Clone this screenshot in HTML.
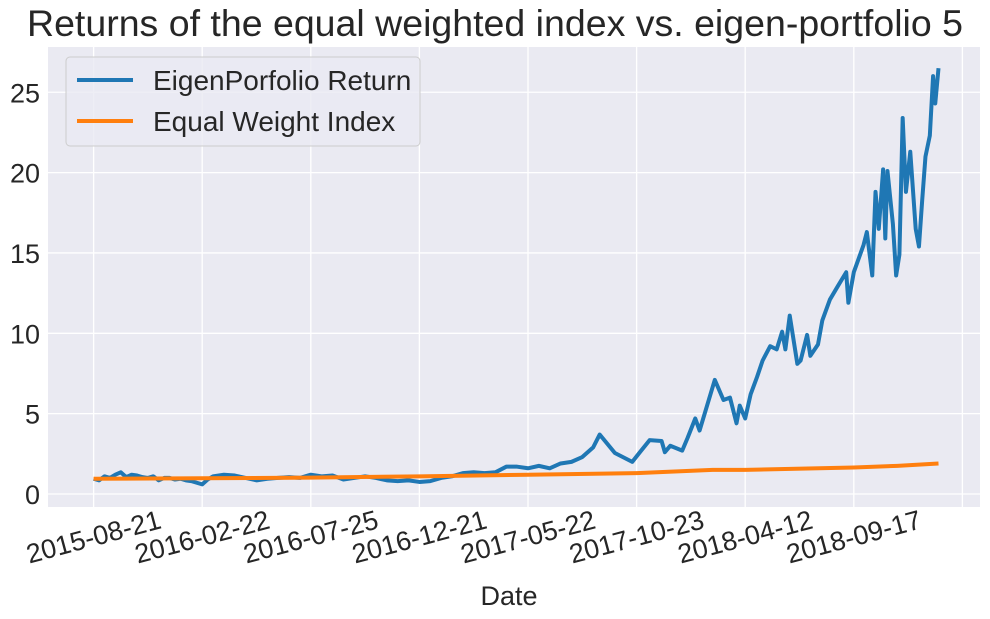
<!DOCTYPE html>
<html><head><meta charset="utf-8"><style>
body{margin:0;background:#fff}
svg{display:block;font-family:"Liberation Sans",Arial,sans-serif}
</style></head><body>
<svg id="chart" width="990" height="619">
<rect x="48" y="47" width="932" height="460" fill="#eaeaf2"/>
<g id="grid"></g><g id="series"></g><g id="ticks"></g>
<text x="495" y="36" font-size="37.5" text-anchor="middle" fill="#262626">Returns of the equal weighted index vs. eigen-portfolio 5</text>
<text x="509" y="605" font-size="27" text-anchor="middle" fill="#262626">Date</text>
<g>
<rect x="66" y="57" width="354" height="89" rx="4" fill="#eaeaf2" fill-opacity="0.8" stroke="#cccccc"/>
<line x1="77" y1="80" x2="133" y2="80" stroke="#1f77b4" stroke-width="4"/>
<text x="153" y="90" font-size="28" fill="#262626">EigenPorfolio Return</text>
<line x1="77" y1="121" x2="133" y2="121" stroke="#ff7f0e" stroke-width="4"/>
<text x="153" y="131" font-size="28" fill="#262626">Equal Weight Index</text>
</g>
</svg>
<script>
const xTickLabels=["2015-08-21","2016-02-22","2016-07-25","2016-12-21","2017-05-22","2017-10-23","2018-04-12","2018-09-17",""];
const xTickIdx=[0,100,200,300,400,500,600,700,800];
const yTicks=[0,5,10,15,20,25];
const eigenIdx=[0,5,10,15,20,25,30,35,40,45,50,55,60,65,70,75,80,85,90,95,100,105,110,120,130,140,150,160,170,180,190,200,210,220,230,240,250,260,270,280,290,300,310,320,330,340,350,360,370,380,390,400,410,420,430,440,450,460,466,480,496,503,512,523,526,531,542,547,554,558,572,580,586,592,595,600,605,611,616,623,629,634,637,641,648,651,657,660,667,671,678,685,693,695,700,709,712,717,720,723,727,729,731,736,739,742,745,748,752,757,760,763,766,770,773,775,778];
const eigenVal=[0.95,0.85,1.1,1.0,1.2,1.35,1.05,1.2,1.15,1.05,1.0,1.1,0.85,1.0,1.0,0.9,0.95,0.85,0.8,0.7,0.6,0.9,1.1,1.2,1.15,1.0,0.85,0.95,1.0,1.05,1.0,1.2,1.1,1.15,0.9,1.0,1.1,1.0,0.85,0.8,0.85,0.75,0.8,1.0,1.1,1.3,1.35,1.3,1.35,1.7,1.7,1.6,1.75,1.6,1.9,2.0,2.3,2.9,3.7,2.55,2.0,2.6,3.35,3.3,2.6,3.0,2.7,3.5,4.7,3.95,7.1,5.85,6.0,4.4,5.5,4.7,6.2,7.3,8.3,9.2,9.0,10.1,9.0,11.1,8.1,8.3,9.9,8.6,9.3,10.8,12.1,12.9,13.8,11.9,13.8,15.5,16.3,13.6,18.8,16.5,20.2,15.9,20.1,16.8,13.6,14.9,23.4,18.8,21.3,16.5,15.4,18.3,21.0,22.3,26.0,24.3,26.5];
const equalIdx=[0,100,200,300,400,500,570,600,700,740,778];
const equalVal=[0.95,0.98,1.02,1.1,1.2,1.3,1.5,1.5,1.65,1.75,1.9];
const NS="http://www.w3.org/2000/svg";
const X=i=>93.6+i*1.086, Y=v=>494-v*16.07;
function mk(t,a,p){const e=document.createElementNS(NS,t);for(const k in a)e.setAttribute(k,a[k]);p.appendChild(e);return e;}
const grid=document.getElementById('grid'),ticks=document.getElementById('ticks'),ser=document.getElementById('series');
yTicks.forEach(v=>{
 const l=mk('line',{x1:48,x2:980,y1:Y(v),y2:Y(v),stroke:'#fff','stroke-width':1.3},grid);
 
 
 const t=mk('text',{x:40,y:Y(v)+10,'font-size':27,'text-anchor':'end',fill:'#262626'},ticks);t.textContent=v;
 
 
});
xTickIdx.forEach((i,k)=>{
 const l=mk('line',{x1:X(i),x2:X(i),y1:47,y2:507,stroke:'#fff','stroke-width':1.3},grid);
 
 
 if(xTickLabels[k]){
  const t=mk('text',{x:X(i),y:546,'font-size':27,'text-anchor':'middle',fill:'#262626',transform:`rotate(-15 ${X(i)} 537)`},ticks);t.textContent=xTickLabels[k];
  
  
 }
});
function line(idx,val,c,name){
 const p=mk('polyline',{points:idx.map((i,k)=>X(i)+','+Y(val[k])).join(' '),fill:'none',stroke:c,'stroke-width':4,'stroke-linejoin':'round'},ser);
 
 
}
line(eigenIdx,eigenVal,'#1f77b4','eigen-portfolio-line');
line(equalIdx,equalVal,'#ff7f0e','equal-weight-line');
</script>
</body></html>
